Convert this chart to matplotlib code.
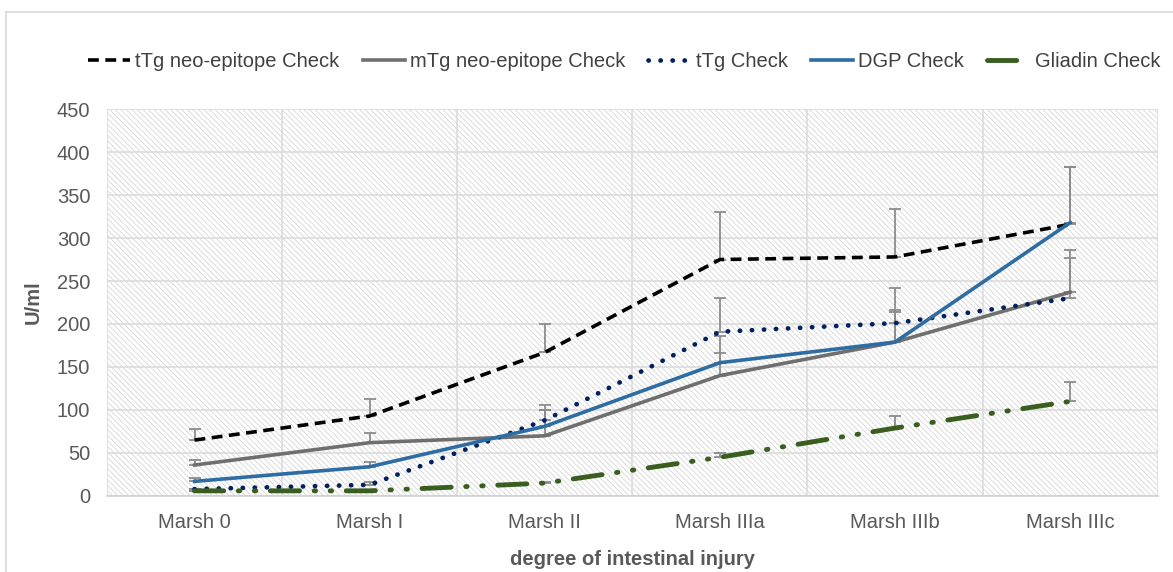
import numpy as np
import matplotlib.pyplot as plt
from matplotlib.lines import Line2D

plt.rcParams['font.family'] = ['Liberation Sans', 'DejaVu Sans']
plt.rcParams['hatch.color'] = '#d6d6d6'
plt.rcParams['hatch.linewidth'] = 0.6

stages = ['Marsh 0', 'Marsh I', 'Marsh II', 'Marsh IIIa', 'Marsh IIIb', 'Marsh IIIc']

ttg_neo = [65, 93, 167, 275, 278, 316]
ttg_neo_err = [13, 20, 33, 55, 56, 66]
mtg_neo = [36, 62, 70, 140, 179, 237]
mtg_neo_err = [6, 11, 30, 26, 35, 49]
ttg = [8, 13, 88, 191, 201, 230]
ttg_err = [0, 3, 18, 39, 41, 47]
dgp = [17, 34, 81, 155, 179, 318]
dgp_err = [4, 6, 19, 31, 37, 64]
gliadin = [6, 6, 15, 45, 79, 110]
gliadin_err = [0, 0, 1, 5, 14, 23]

series = [
    ('tTg neo-epitope Check', ttg_neo, ttg_neo_err,
     dict(color='black', lw=2.6, dashes=(3, 1.8))),
    ('mTg neo-epitope Check', mtg_neo, mtg_neo_err,
     dict(color='#6f6f6f', lw=2.6, linestyle='-')),
    ('tTg Check', ttg, ttg_err,
     dict(color='#002060', lw=3.4, dashes=(0.05, 2.5), dash_capstyle='round')),
    ('DGP Check', dgp, dgp_err,
     dict(color='#2e6ca4', lw=2.6, linestyle='-')),
    ('Gliadin Check', gliadin, gliadin_err,
     dict(color='#3a5e20', lw=3.5, dashes=(6, 3, 0.3, 3, 0.3, 3), dash_capstyle='round')),
]

fs = 14.5
fig = plt.figure(figsize=(11.73, 5.72), dpi=100)
ax = fig.add_axes([0.0912, 0.1329, 0.8958, 0.6765])

ax.patch.set_facecolor('white')
ax.patch.set_hatch('\\\\\\\\\\\\')
ax.patch.set_edgecolor('#d6d6d6')

x = np.arange(len(stages))
handles = []
for name, vals, err, style in series:
    vals = np.array(vals)
    err = np.array(err)
    ax.errorbar(x, vals, yerr=[np.zeros_like(err), err], fmt='none',
                ecolor='#8c8c8c', elinewidth=1.3, capsize=4, capthick=1.3, zorder=3)
    line, = ax.plot(x, vals, label=name, zorder=4, **style)
    handles.append(line)

ax.set_xlim(-0.5, 5.5)
ax.set_ylim(0, 450)
ax.set_yticks(np.arange(0, 451, 50))
ax.set_xticks(x)
ax.set_xticklabels(stages)
ax.set_xticks(np.arange(-0.5, 5.6, 1), minor=True)
ax.grid(axis='y', which='major', color='#dcdcdc', lw=1.2, zorder=1)
ax.grid(axis='x', which='minor', color='#dcdcdc', lw=1.2, zorder=1)
ax.set_axisbelow(True)
ax.tick_params(which='both', length=0, labelsize=fs, colors='#595959')
ax.tick_params(axis='y', pad=12)
ax.tick_params(axis='x', pad=12)

for side in ['top', 'right', 'left']:
    ax.spines[side].set_visible(False)
ax.spines['bottom'].set_color('#d0d0d0')
ax.spines['bottom'].set_linewidth(1.2)

ax.set_ylabel('U/ml', fontsize=fs, fontweight='bold', color='#595959', labelpad=10)
ax.set_xlabel('degree of intestinal injury', fontsize=fs, fontweight='bold',
              color='#595959', labelpad=13)

fig.legend(handles=handles, loc='center', bbox_to_anchor=(0.532, 0.892), ncol=5,
           frameon=False, fontsize=fs, labelcolor='#404040', handlelength=2.1,
           handletextpad=0.25, columnspacing=1.15)

# light chart frame on the top and left edges
fig.add_artist(Line2D([0.005, 1.0], [0.979, 0.979], color='#d9d9d9', lw=1.2,
                      transform=fig.transFigure))
fig.add_artist(Line2D([0.005, 0.005], [0.0, 0.979], color='#d9d9d9', lw=1.2,
                      transform=fig.transFigure))

fig.savefig('out.png', dpi=100)
